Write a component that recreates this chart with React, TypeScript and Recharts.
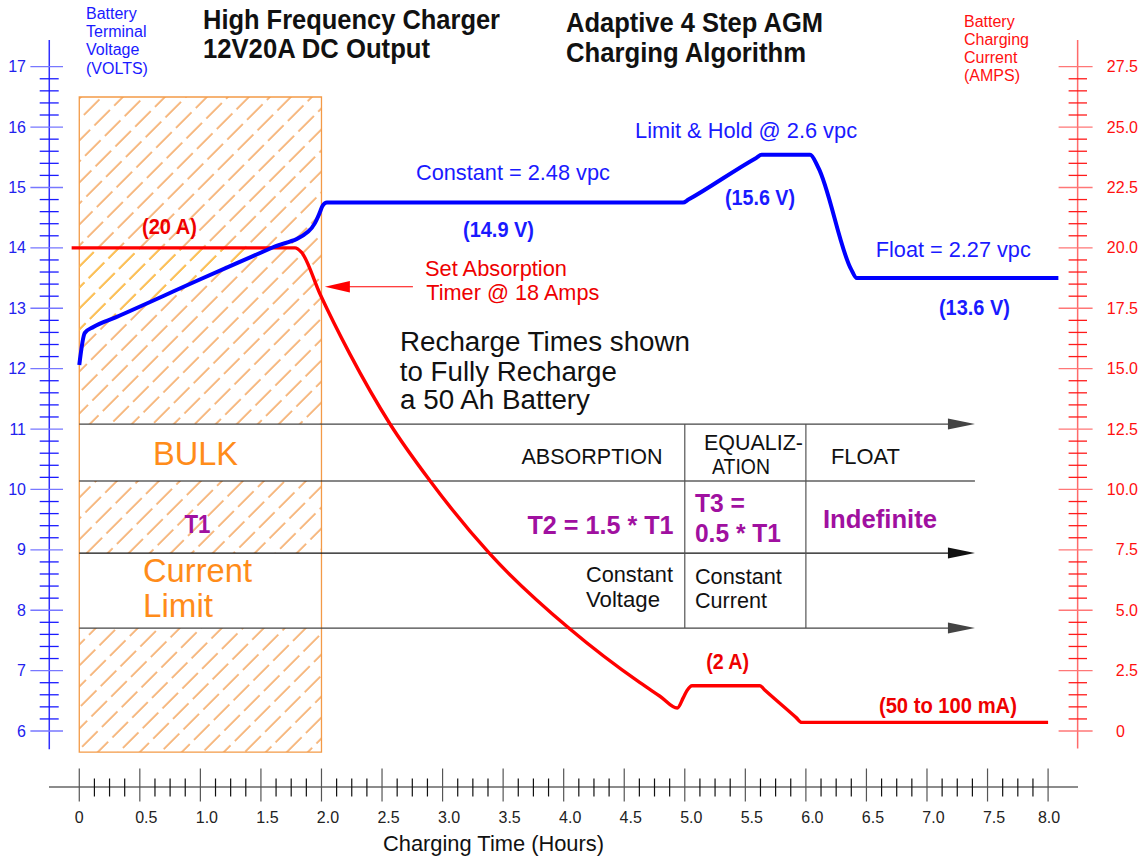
import React from 'react';
import { ComposedChart, Line, Area, XAxis, YAxis, ReferenceArea, ReferenceLine, ReferenceDot } from 'recharts';

const FONT = '"Liberation Sans", Arial, Helvetica, sans-serif';

// Battery terminal voltage (left axis, volts) vs charging time (hours)
const voltageHours = [0, 0.045, 0.116, 0.3, 1.0, 1.6, 1.891, 1.946, 1.985, 2.01, 2.045, 2.1, 4.985, 5.03, 5.59, 5.635, 6.035, 6.1, 6.375, 6.42, 8.085];
const voltageValues = [12.06, 12.59, 12.69, 12.85, 13.48, 14.01, 14.27, 14.41, 14.58, 14.7, 14.75, 14.75, 14.75, 14.8, 15.49, 15.54, 15.54, 15.34, 13.64, 13.5, 13.5];

// Charging current (right axis, amps) vs charging time (hours)
const currentHours = [-0.063, 1.781, 1.836, 1.988, 2.235, 2.566, 2.896, 3.391, 4.052, 4.63, 4.795, 4.938, 4.988, 5.018, 5.06, 5.621, 5.66, 5.92, 5.965, 8.0];
const currentValues = [20.0, 20.0, 19.81, 18.09, 15.6, 12.71, 10.36, 7.33, 4.22, 2.0, 1.44, 0.95, 1.38, 1.67, 1.875, 1.875, 1.7, 0.555, 0.356, 0.356];

// Yellow-hatched band between the 20 A line (14 V) and the voltage curve
const bandHours = [0, 0.045, 0.116, 0.3, 1.0, 1.6];
const bandLow = [12.06, 12.59, 12.69, 12.85, 13.48, 14.0];
const bandHigh = [14.0, 14.0, 14.0, 14.0, 14.0, 14.0];

// Tick labels
const hourTickLabels = ['0', '0.5', '1.0', '1.5', '2.0', '2.5', '3.0', '3.5', '4.0', '4.5', '5.0', '5.5', '6.0', '6.5', '7.0', '7.5', '8.0'];
const voltTickLabels = ['6', '7', '8', '9', '10', '11', '12', '13', '14', '15', '16', '17'];
const ampTickLabels = ['0', '2.5', '5.0', '7.5', '10.0', '12.5', '15.0', '17.5', '20.0', '22.5', '25.0', '27.5'];

const voltageData = voltageHours.map((h, i) => ({ h, v: voltageValues[i] }));
const currentData = currentHours.map((h, i) => ({ h, a: currentValues[i] }));
const bandData = bandHours.map((h, i) => ({ h, band: [bandLow[i], bandHigh[i]] }));

const subdivide = (labels: string[], n: number) => {
  const major = labels.map(Number);
  const out: number[] = [];
  for (let i = 0; i < major.length; i++) {
    out.push(major[i]);
    if (i < major.length - 1) {
      for (let k = 1; k < n; k++) out.push(+(major[i] + ((major[i + 1] - major[i]) * k) / n).toFixed(4));
    }
  }
  return out;
};
const xTicks = subdivide(hourTickLabels, 4);
const vTicks = subdivide(voltTickLabels, 5);
const aTicks = subdivide(ampTickLabels, 5);

const findLabel = (labels: string[], v: number) => labels.findIndex((l) => Math.abs(Number(l) - v) < 1e-6);

const XTick = (p: any) => {
  const { x, y, payload } = p;
  const idx = findLabel(hourTickLabels, payload.value);
  if (idx < 0) return <line x1={x} x2={x} y1={y - 8.5} y2={y + 9.5} stroke="#111" strokeWidth={1.2} />;
  const last = idx === hourTickLabels.length - 1;
  const dx = idx === 0 ? 0 : last ? 1 : 6.5;
  return (
    <g>
      <line x1={x} x2={x} y1={y - 18.5} y2={y + 14.5} stroke="#555" strokeWidth={1.2} />
      <text x={x + dx} y={y + 30.5} textAnchor="middle" dominantBaseline="central" fontSize={16} fontFamily={FONT} fill="#222">
        {hourTickLabels[idx]}
      </text>
    </g>
  );
};

const VTick = (p: any) => {
  const { x, y, payload } = p;
  const idx = findLabel(voltTickLabels, payload.value);
  if (idx < 0) return <line x1={x - 9.3} x2={x + 9.7} y1={y} y2={y} stroke="#1a1aff" strokeWidth={1.3} />;
  return (
    <g>
      <line x1={x - 18.6} x2={x + 14} y1={y} y2={y} stroke="#7777ff" strokeWidth={1.3} />
      <text x={x - 23} y={y} textAnchor="end" dominantBaseline="central" fontSize={16} fontFamily={FONT} fill="#2222ee">
        {voltTickLabels[idx]}
      </text>
    </g>
  );
};

const ATick = (p: any) => {
  const { x, y, payload } = p;
  const idx = findLabel(ampTickLabels, payload.value);
  if (idx < 0) return <line x1={x - 9.4} x2={x + 9} y1={y} y2={y} stroke="#ff1a1a" strokeWidth={1.3} />;
  const label = ampTickLabels[idx];
  const ax = label.includes('.') ? x + 60 : x + 47;
  return (
    <g>
      <line x1={x - 19.4} x2={x + 14.6} y1={y} y2={y} stroke="#ff7777" strokeWidth={1.3} />
      <text x={ax} y={y} textAnchor="end" dominantBaseline="central" fontSize={16} fontFamily={FONT} fill="#ff1010">
        {label}
      </text>
    </g>
  );
};

const arrowShape = (head: 'start' | 'end' | 'none', color: string, sw: number, len: number, half: number) => (p: any) => {
  const { x1, y1, x2, y2 } = p;
  if (head === 'none') return <line x1={x1} y1={y1} x2={x2} y2={y2} stroke={color} strokeWidth={sw} />;
  if (head === 'end') {
    return (
      <g>
        <line x1={x1} y1={y1} x2={x2 - len + 2} y2={y2} stroke={color} strokeWidth={sw} />
        <polygon points={`${x2},${y2} ${x2 - len},${y2 - half} ${x2 - len},${y2 + half}`} fill={color} />
      </g>
    );
  }
  return (
    <g>
      <line x1={x1 + len - 2} y1={y1} x2={x2} y2={y2} stroke={color} strokeWidth={sw} />
      <polygon points={`${x1},${y1} ${x1 + len},${y1 - half} ${x1 + len},${y1 + half}`} fill={color} />
    </g>
  );
};

const NoteText = (props: any) => {
  const vb = props.viewBox || {};
  const x = (vb.x ?? 0) + (vb.width ?? 0) / 2;
  const y = (vb.y ?? 0) + (vb.height ?? 0) / 2;
  return (
    <text
      x={x}
      y={y}
      textAnchor="middle"
      dominantBaseline="central"
      fontSize={props.size}
      fontWeight={props.bold ? 'bold' : 'normal'}
      fontFamily={FONT}
      fill={props.color}
      textLength={props.w}
      lengthAdjust="spacingAndGlyphs"
    >
      {props.text}
    </text>
  );
};

const note = (key: string, h: number, v: number, text: string, color: string, size: number, w: number, bold = false) => (
  <ReferenceDot
    key={key}
    x={h}
    y={v}
    yAxisId="v"
    r={0}
    ifOverflow="visible"
    fill="none"
    stroke="none"
    label={<NoteText text={text} color={color} size={size} w={w} bold={bold} />}
  />
);

const BLUE = '#1a1aff';
const RED = '#ee0000';
const ORANGE = '#ff8c1a';
const PURPLE = '#a010a0';
const BLACK = '#111';
const TABLE = '#444';

export default function App() {
  return (
    <div style={{ position: 'absolute', left: 0, top: 0, width: 1145, height: 858, background: '#fff', fontFamily: FONT }}>
      <ComposedChart width={1145} height={858} margin={{ top: 40, right: 0, bottom: 0, left: 0 }}>
        <defs>
          <pattern id="bulkHatch" patternUnits="userSpaceOnUse" width={14.85} height={28} patternTransform="rotate(45)">
            <line x1={7} y1={0} x2={7} y2={22} stroke="#f08a2c" strokeWidth={1.2} />
          </pattern>
          <pattern id="bandHatch" patternUnits="userSpaceOnUse" width={14.85} height={28} patternTransform="rotate(45)">
            <line x1={7} y1={0} x2={7} y2={22} stroke="#ffc640" strokeWidth={1.3} />
          </pattern>
        </defs>
        <XAxis
          dataKey="h"
          type="number"
          domain={[-0.25, 8.247]}
          allowDataOverflow
          ticks={xTicks}
          interval={0}
          height={71}
          tickSize={0}
          tickMargin={0}
          tickLine={false}
          axisLine={{ stroke: '#666', strokeWidth: 1.6 }}
          tick={<XTick />}
        />
        <YAxis
          yAxisId="v"
          orientation="left"
          type="number"
          width={49}
          domain={[5.073, 17.442]}
          allowDataOverflow
          ticks={vTicks}
          interval={0}
          tickSize={0}
          tickMargin={0}
          tickLine={false}
          axisLine={false}
          tick={<VTick />}
        />
        <YAxis
          yAxisId="a"
          orientation="right"
          type="number"
          width={67}
          domain={[-2.3175, 28.605]}
          allowDataOverflow
          ticks={aTicks}
          interval={0}
          tickSize={0}
          tickMargin={0}
          tickLine={false}
          axisLine={false}
          tick={<ATick />}
        />

        {/* BULK / current limit hatched zone */}
        <ReferenceArea yAxisId="v" x1={0} x2={2} y1={5.652} y2={16.498} fill="url(#bulkHatch)" fillOpacity={1} stroke="none" ifOverflow="visible" />
        <ReferenceArea yAxisId="v" x1={0} x2={2} y1={10.14} y2={11.083} fill="#fff" fillOpacity={1} stroke="none" ifOverflow="visible" />
        <ReferenceArea yAxisId="v" x1={0} x2={2} y1={7.705} y2={8.947} fill="#fff" fillOpacity={1} stroke="none" ifOverflow="visible" />
        <ReferenceArea yAxisId="v" x1={0} x2={2} y1={5.652} y2={16.498} fill="none" fillOpacity={0} stroke="#f39a47" strokeWidth={1.3} ifOverflow="visible" />

        {/* axis lines */}
        <ReferenceLine yAxisId="v" segment={[{ x: -0.2477, y: 5.697 }, { x: -0.2477, y: 17.442 }]} stroke="#3030ff" strokeWidth={1.5} ifOverflow="visible" />
        <ReferenceLine yAxisId="a" segment={[{ x: 8.244, y: -0.72 }, { x: 8.244, y: 28.605 }]} stroke="#ff6a6a" strokeWidth={1.5} ifOverflow="visible" />

        {/* stage table */}
        <ReferenceLine yAxisId="v" segment={[{ x: 0, y: 11.083 }, { x: 7.396, y: 11.083 }]} ifOverflow="visible" shape={arrowShape('end', TABLE, 1.3, 27, 5.5)} />
        <ReferenceLine yAxisId="v" segment={[{ x: 0, y: 10.14 }, { x: 7.396, y: 10.14 }]} ifOverflow="visible" shape={arrowShape('none', BLACK, 1.2, 27, 5.5)} />
        <ReferenceLine yAxisId="v" segment={[{ x: 0, y: 8.947 }, { x: 7.396, y: 8.947 }]} ifOverflow="visible" shape={arrowShape('end', BLACK, 1.2, 27, 5.5)} />
        <ReferenceLine yAxisId="v" segment={[{ x: 0, y: 7.705 }, { x: 7.396, y: 7.705 }]} ifOverflow="visible" shape={arrowShape('end', TABLE, 1.3, 27, 5.5)} />
        <ReferenceLine yAxisId="v" segment={[{ x: 5.0, y: 11.083 }, { x: 5.0, y: 7.705 }]} ifOverflow="visible" shape={arrowShape('none', '#555', 1.2, 0, 0)} />
        <ReferenceLine yAxisId="v" segment={[{ x: 6.0, y: 11.083 }, { x: 6.0, y: 7.705 }]} ifOverflow="visible" shape={arrowShape('none', '#555', 1.2, 0, 0)} />

        {/* absorption timer pointer */}
        <ReferenceLine yAxisId="a" segment={[{ x: 2.028, y: 18.39 }, { x: 2.755, y: 18.39 }]} ifOverflow="visible" shape={arrowShape('start', '#ff0000', 1.2, 25, 5.8)} />

        <Area data={bandData} dataKey="band" yAxisId="v" type="linear" stroke="none" fill="url(#bandHatch)" fillOpacity={1} dot={false} activeDot={false} isAnimationActive={false} />
        <Line data={currentData} dataKey="a" yAxisId="a" type="monotone" stroke="#ff0000" strokeWidth={3.4} dot={false} activeDot={false} isAnimationActive={false} />
        <Line data={voltageData} dataKey="v" yAxisId="v" type="monotone" stroke="#0000ff" strokeWidth={4} dot={false} activeDot={false} isAnimationActive={false} />

        {note('n1', 0.745, 14.362, '(20 A)', RED, 22, 55, true)}
        {note('n2', 3.581, 15.235, 'Constant = 2.48 vpc', BLUE, 21.5, 194)}
        {note('n3', 3.462, 14.296, '(14.9 V)', BLUE, 22, 71, true)}
        {note('n4', 3.441, 13.645, 'Set Absorption', RED, 21.5, 142)}
        {note('n5', 3.58, 13.258, 'Timer @ 18 Amps', RED, 21.5, 173)}
        {note('n6', 5.506, 15.94, 'Limit & Hold @ 2.6 vpc', BLUE, 21.5, 222)}
        {note('n7', 5.621, 14.826, '(15.6 V)', BLUE, 22, 70, true)}
        {note('n8', 7.217, 13.965, 'Float = 2.27 vpc', BLUE, 21.5, 155)}
        {note('n9', 7.392, 13.016, '(13.6 V)', BLUE, 22, 71, true)}
        {note('n10', 3.846, 12.446, 'Recharge Times shown', BLACK, 27, 290)}
        {note('n11', 3.543, 11.95, 'to Fully Recharge', BLACK, 27, 217)}
        {note('n12', 3.433, 11.481, 'a 50 Ah Battery', BLACK, 27, 190)}
        {note('n13', 0.96, 10.603, 'BULK', ORANGE, 33, 85)}
        {note('n14', 0.976, 9.428, 'T1', PURPLE, 25, 26, true)}
        {note('n15', 0.976, 8.666, 'Current', ORANGE, 33, 109)}
        {note('n16', 0.815, 8.086, 'Limit', ORANGE, 33, 70)}
        {note('n17', 4.234, 10.542, 'ABSORPTION', BLACK, 21.5, 141)}
        {note('n18', 5.567, 10.769, 'EQUALIZ-', BLACK, 21.5, 99)}
        {note('n19', 5.464, 10.371, 'ATION', BLACK, 21.5, 58)}
        {note('n20', 6.492, 10.537, 'FLOAT', BLACK, 21.5, 69)}
        {note('n21', 4.304, 9.411, 'T2 = 1.5 * T1', PURPLE, 25, 146, true)}
        {note('n22', 5.29, 9.775, 'T3 =', PURPLE, 25, 50, true)}
        {note('n23', 5.439, 9.283, '0.5 * T1', PURPLE, 25, 86, true)}
        {note('n24', 6.612, 9.51, 'Indefinite', PURPLE, 25, 114, true)}
        {note('n25', 4.543, 8.583, 'Constant', BLACK, 21.5, 87)}
        {note('n26', 4.49, 8.169, 'Voltage', BLACK, 21.5, 74)}
        {note('n27', 5.443, 8.55, 'Constant', BLACK, 21.5, 87)}
        {note('n28', 5.381, 8.152, 'Current', BLACK, 21.5, 72)}
        {note('n29', 5.354, 7.147, '(2 A)', RED, 22, 43, true)}
        {note('n30', 7.173, 6.43, '(50 to 100 mA)', RED, 22, 138, true)}
      </ComposedChart>

      <svg width={1145} height={858} style={{ position: 'absolute', left: 0, top: 0, pointerEvents: 'none' }}>
        <g fontFamily={FONT} fontWeight="bold" fill="#111" fontSize={28}>
          <text x={203} y={29} textLength={297} lengthAdjust="spacingAndGlyphs">High Frequency Charger</text>
          <text x={203} y={58} textLength={227} lengthAdjust="spacingAndGlyphs">12V20A DC Output</text>
          <text x={566} y={32} textLength={257} lengthAdjust="spacingAndGlyphs">Adaptive 4 Step AGM</text>
          <text x={566} y={62} textLength={240} lengthAdjust="spacingAndGlyphs">Charging Algorithm</text>
        </g>
        <g fontFamily={FONT} fontSize={16} fill="#1a1aff">
          <text x={86} y={13.5} dominantBaseline="central">Battery</text>
          <text x={86} y={31.5} dominantBaseline="central">Terminal</text>
          <text x={86} y={49.5} dominantBaseline="central">Voltage</text>
          <text x={86} y={68} dominantBaseline="central">(VOLTS)</text>
        </g>
        <g fontFamily={FONT} fontSize={16} fill="#ff1010">
          <text x={964} y={21} dominantBaseline="central">Battery</text>
          <text x={964} y={39.5} dominantBaseline="central">Charging</text>
          <text x={964} y={57.5} dominantBaseline="central">Current</text>
          <text x={964} y={75.5} dominantBaseline="central">(AMPS)</text>
        </g>
        <text x={493.5} y={843} textAnchor="middle" dominantBaseline="central" fontFamily={FONT} fontSize={21.7} fill="#111" textLength={221} lengthAdjust="spacingAndGlyphs">
          Charging Time (Hours)
        </text>
      </svg>
    </div>
  );
}
